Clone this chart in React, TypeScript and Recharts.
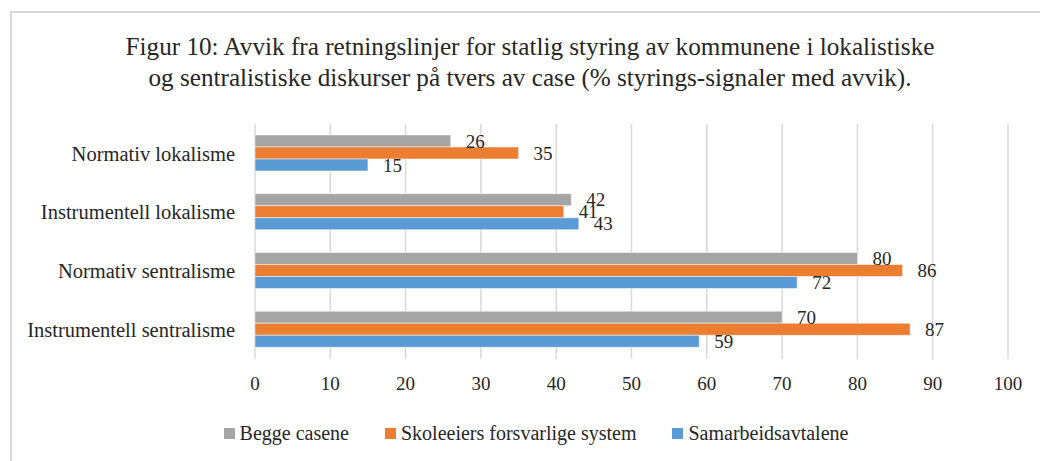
import { BarChart, Bar, XAxis, YAxis, CartesianGrid, Legend, LabelList } from 'recharts'

const GRAY   = '#A5A5A5'
const ORANGE = '#ED7D31'
const BLUE   = '#5B9BD5'
const TEXT   = '#262626'
const FONT   = '"Liberation Serif", "Times New Roman", serif'

const categories = [
  'Normativ lokalisme',
  'Instrumentell lokalisme',
  'Normativ sentralisme',
  'Instrumentell sentralisme',
]
const beggeCasene = [26, 42, 80, 70]
const skoleeiers  = [35, 41, 86, 87]
const samarbeid   = [15, 43, 72, 59]
const xTicks = [0, 10, 20, 30, 40, 50, 60, 70, 80, 90, 100]

const seriesNames = ['Begge casene', 'Skoleeiers forsvarlige system', 'Samarbeidsavtalene']

const data = categories.map((name, i) => ({
  name,
  begge: beggeCasene[i],
  skole: skoleeiers[i],
  samarbeid: samarbeid[i],
}))

function LegendContent() {
  const colors = [GRAY, ORANGE, BLUE]
  return (
    <div style={{ display: 'flex', justifyContent: 'center', gap: 36, height: 24, alignItems: 'center', fontFamily: FONT }}>
      {seriesNames.map((n, i) => (
        <div key={n} style={{ display: 'flex', alignItems: 'center' }}>
          <span style={{ width: 11, height: 11, background: colors[i], marginRight: 5, display: 'inline-block' }} />
          <span style={{ fontFamily: FONT, fontSize: 20, color: TEXT }}>{n}</span>
        </div>
      ))}
    </div>
  )
}

export default function App() {
  return (
    <div style={{ position: 'absolute', left: 0, top: 0, width: 1040, height: 461, overflow: 'hidden', background: '#fff', fontFamily: FONT }}>
      <div style={{ position: 'absolute', left: 10, top: 11, width: 1060, height: 480, border: '2px solid #d9d9d9', boxSizing: 'border-box' }} />
      <div style={{ position: 'absolute', left: 10, top: 31, width: 1040, textAlign: 'center', fontSize: 25.2, lineHeight: '31px', color: TEXT }}>
        Figur 10: Avvik fra retningslinjer for statlig styring av kommunene i lokalistiske<br />
        og sentralistiske diskurser på tvers av case (% styrings-signaler med avvik).
      </div>
      <div style={{ position: 'absolute', left: 0, top: 0 }}>
        <BarChart
          width={1040}
          height={461}
          data={data}
          layout="vertical"
          margin={{ top: 124, right: 32, left: 0, bottom: 16 }}
          barSize={12}
          barGap={0}
        >
          <CartesianGrid horizontal={false} stroke="#d9d9d9" strokeWidth={1.5} />
          <XAxis
            type="number"
            domain={[0, 100]}
            ticks={xTicks}
            axisLine={false}
            tickLine={false}
            tickSize={0}
            tickMargin={18}
            height={62}
            tick={{ fontSize: 19, fill: TEXT, fontFamily: FONT }}
          />
          <YAxis
            type="category"
            dataKey="name"
            width={255}
            axisLine={false}
            tickLine={false}
            tickSize={0}
            tickMargin={20}
            tick={{ fontSize: 20.5, fill: TEXT, fontFamily: FONT }}
          />
          <Legend
            verticalAlign="bottom"
            content={<LegendContent />}
            wrapperStyle={{ left: 0, width: 1072, bottom: 16, height: 24 }}
          />
          <Bar dataKey="begge" name={seriesNames[0]} fill={GRAY} stroke="#fff" strokeWidth={0.5} isAnimationActive={false}>
            <LabelList dataKey="begge" position="right" offset={15} fill={TEXT} fontSize={19} fontFamily={FONT} />
          </Bar>
          <Bar dataKey="skole" name={seriesNames[1]} fill={ORANGE} stroke="#fff" strokeWidth={0.5} isAnimationActive={false}>
            <LabelList dataKey="skole" position="right" offset={15} fill={TEXT} fontSize={19} fontFamily={FONT} />
          </Bar>
          <Bar dataKey="samarbeid" name={seriesNames[2]} fill={BLUE} stroke="#fff" strokeWidth={0.5} isAnimationActive={false}>
            <LabelList dataKey="samarbeid" position="right" offset={15} fill={TEXT} fontSize={19} fontFamily={FONT} />
          </Bar>
        </BarChart>
      </div>
    </div>
  )
}
